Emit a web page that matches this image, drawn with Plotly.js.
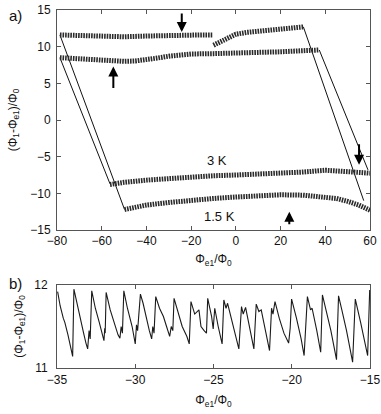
<!DOCTYPE html>
<html>
<head>
<meta charset="utf-8">
<script src="https://cdn.plot.ly/plotly-3.0.1.min.js"></script>
<style>html,body{margin:0;padding:0;background:#fff;}#chart{width:381px;height:414px;}</style>
</head>
<body>
<div id="chart"></div>
<script>
// ---- Panel a) : 1.5 K loop ----
const up15aX = [-78.7, -70, -60, -55, -50, -40, -30, -25, -20, -15, -10.2];
const up15aY = [11.6, 11.55, 11.4, 11.35, 11.35, 11.45, 11.55, 11.65, 11.65, 11.6, 11.6];
const up15bX = [-10, -8, -6, -4, -2, 0, 5, 10, 15, 20, 25, 30.2];
const up15bY = [10.2, 10.5, 10.9, 11.2, 11.5, 11.7, 11.95, 12.1, 12.25, 12.4, 12.55, 12.7];
const lo15X = [-49.8, -45, -40, -30, -20, -10, 0, 10, 20, 30, 40, 45, 50, 55, 60];
const lo15Y = [-12.2, -11.9, -11.6, -11.25, -10.9, -10.7, -10.5, -10.35, -10.2, -10.25, -10.45, -10.7, -11.1, -11.6, -12.3];
const left15X = [-78.7, -49.8];
const left15Y = [11.6, -12.2];
const right15X = [30.2, 57.2];
const right15Y = [12.7, -11.0];

// ---- Panel a) : 3 K loop ----
const up3X = [-78.7, -70, -60, -55, -50, -45, -40, -35, -30, -25, -20, -10, 0, 10, 20, 30, 37.3];
const up3Y = [8.5, 8.35, 8.15, 8.05, 8.0, 8.05, 8.2, 8.45, 8.7, 8.9, 9.0, 9.05, 9.1, 9.2, 9.3, 9.45, 9.55];
const lo3X = [-56.3, -50, -40, -30, -20, -10, 0, 10, 20, 30, 40, 50, 60];
const lo3Y = [-8.8, -8.5, -8.2, -7.95, -7.7, -7.6, -7.5, -7.4, -7.3, -7.1, -6.85, -7.0, -7.25];
const left3X = [-78.7, -56.3];
const left3Y = [8.5, -8.7];
const right3X = [37.3, 59.1];
const right3Y = [9.55, -6.8];

// arrows (tip positions) in panel a
const arrowX = [-24.2, -54.8, 55.1, 23.9];
const arrowY = [12.0, 7.3, -6.1, -12.5];
const arrowDy = [-20, 23, -22, 14];

// ---- Panel b) : zoom of the sawtooth ----
const bX = [-34.96, -34.8, -34.6, -34.5, -34.3, -34.0,
  -33.92, -33.7, -33.5, -33.3, -33.15, -33.04, -32.95, -32.88,
  -32.78, -32.55, -32.3, -32.1, -32.0, -31.95, -31.92,
  -31.86, -31.6, -31.3, -31.1, -30.98, -30.9, -30.82,
  -30.73, -30.5, -30.2, -30.0, -29.92, -29.85,
  -29.67, -29.5, -29.3, -29.1, -28.95, -28.88, -28.8,
  -28.69, -28.45, -28.2, -28.0, -27.8, -27.7, -27.6,
  -27.52, -27.3, -27.0, -26.7, -26.55,
  -26.44, -26.2, -25.93, -25.8, -25.6, -25.45,
  -25.37, -25.12, -25.02,
  -24.92, -24.7, -24.45,
  -24.34, -24.2, -24.1, -23.8, -23.5, -23.38,
  -23.21, -23.1, -22.95, -22.7, -22.42,
  -22.27, -22.1, -21.95, -21.7, -21.42,
  -21.29, -21.2, -21.07, -20.8, -20.5, -20.2, -20.1,
  -20.01, -19.7, -19.4, -19.21,
  -19.0, -18.8, -18.7, -18.4, -18.15,
  -18.04, -17.8, -17.5, -17.14,
  -17.01, -16.8, -16.5, -16.11,
  -15.94, -15.6, -15.3, -15.15,
  -15.02];
const bY = [11.92, 11.75, 11.6, 11.55, 11.4, 11.14,
  11.95, 11.75, 11.58, 11.42, 11.3, 11.23, 11.45, 11.35,
  11.93, 11.72, 11.55, 11.38, 11.33, 11.48, 11.42,
  11.91, 11.7, 11.52, 11.4, 11.36, 11.5, 11.42,
  11.93, 11.72, 11.5, 11.29, 11.52, 11.45,
  11.89, 11.78, 11.6, 11.45, 11.35, 11.5, 11.42,
  11.86, 11.72, 11.62, 11.5, 11.38, 11.5, 11.45,
  11.84, 11.7, 11.5, 11.38, 11.29,
  11.80, 11.65, 11.70, 11.5, 11.45, 11.42,
  11.84, 11.62, 11.47,
  11.72, 11.5, 11.29,
  11.82, 11.72, 11.78, 11.55, 11.35, 11.23,
  11.74, 11.65, 11.73, 11.5, 11.23,
  11.77, 11.68, 11.7, 11.45, 11.21,
  11.72, 11.65, 11.80, 11.6, 11.42, 11.3, 11.48,
  11.83, 11.6, 11.35, 11.15,
  11.86, 11.7, 11.72, 11.45, 11.19,
  11.88, 11.68, 11.45, 11.10,
  11.87, 11.7, 11.45, 11.07,
  11.83, 11.55, 11.28, 11.15,
  11.94];

const aTickVals = [-80, -60, -40, -20, 0, 20, 40, 60];
const aYTicks = [-15, -10, -5, 0, 5, 10, 15];
const bTickVals = [-35, -30, -25, -20, -15];
const bYTicks = [11, 12];

const FONT = 'Liberation Sans, Arial, sans-serif';
// thick striped stroke mimicking the dense sawtooth of the measured branches
const band = {color: '#2a2a2a', width: 5, dash: '1.6px,1px'};
const thin = {color: '#111', width: 1};

function tr(x, y, line, xa, ya) {
  return {x: x, y: y, type: 'scatter', mode: 'lines', line: line, xaxis: xa, yaxis: ya,
          hoverinfo: 'skip', showlegend: false};
}

const data = [
  tr(left15X, left15Y, thin, 'x', 'y'),
  tr(right15X, right15Y, thin, 'x', 'y'),
  tr(left3X, left3Y, thin, 'x', 'y'),
  tr(right3X, right3Y, thin, 'x', 'y'),
  tr(up15aX, up15aY, band, 'x', 'y'),
  tr(up15bX, up15bY, band, 'x', 'y'),
  tr(lo15X, lo15Y, band, 'x', 'y'),
  tr(up3X, up3Y, band, 'x', 'y'),
  tr(lo3X, lo3Y, band, 'x', 'y'),
  tr(bX, bY, {color: '#1a1a1a', width: 1.1}, 'x2', 'y2')
];

const axCommon = {
  showgrid: false, zeroline: false, showline: true, mirror: 'ticks',
  linecolor: '#555', linewidth: 1, ticks: 'inside', ticklen: 4, tickcolor: '#555',
  tickfont: {family: FONT, size: 12, color: '#111'}
};

const W = 381, H = 414, ML = 57, MR = 11, MT = 10, MB = 46;
const pw = W - ML - MR, ph = H - MT - MB;

const annotations = arrowX.map((x, i) => ({
  x: x, y: arrowY[i], xref: 'x', yref: 'y', ax: 0, ay: arrowDy[i],
  showarrow: true, arrowhead: 2, arrowsize: 1, arrowwidth: 2, arrowcolor: '#000', text: ''
}));
annotations.push(
  {x: -8.4, y: -5.5, xref: 'x', yref: 'y', text: '3 K', showarrow: false,
   font: {family: FONT, size: 13, color: '#111'}},
  {x: -7.5, y: -13.1, xref: 'x', yref: 'y', text: '1.5 K', showarrow: false,
   font: {family: FONT, size: 13, color: '#111'}},
  {x: (15 - ML) / pw, y: (H - MB - 15) / ph, xref: 'paper', yref: 'paper',
   xanchor: 'center', yanchor: 'middle',
   text: 'a)', showarrow: false, font: {family: FONT, size: 15, color: '#111'}},
  {x: (15 - ML) / pw, y: (H - MB - 283) / ph, xref: 'paper', yref: 'paper',
   xanchor: 'center', yanchor: 'middle',
   text: 'b)', showarrow: false, font: {family: FONT, size: 15, color: '#111'}}
);

const titleFont = {family: FONT, size: 12, color: '#111'};
const layout = {
  width: W, height: H,
  margin: {l: ML, r: MR, t: MT, b: MB},
  paper_bgcolor: '#fff', plot_bgcolor: '#fff',
  showlegend: false,
  xaxis: Object.assign({}, axCommon, {
    domain: [0, 1], range: [-80, 60], tickvals: aTickVals, anchor: 'y',
    title: {text: 'Φ<sub>e1</sub>/Φ<sub>0</sub>', font: titleFont, standoff: 7}
  }),
  yaxis: Object.assign({}, axCommon, {
    domain: [(H - MB - 230) / ph, 1], range: [-15, 15], tickvals: aYTicks, anchor: 'x',
    ticklabelstandoff: 3,
    title: {text: '(Φ<sub>1</sub>-Φ<sub>e1</sub>)/Φ<sub>0</sub>', font: titleFont, standoff: 10}
  }),
  xaxis2: Object.assign({}, axCommon, {
    domain: [0, 1], range: [-35, -15], tickvals: bTickVals, anchor: 'y2',
    ticklabelstandoff: 1,
    title: {text: 'Φ<sub>e1</sub>/Φ<sub>0</sub>', font: titleFont, standoff: 9}
  }),
  yaxis2: Object.assign({}, axCommon, {
    domain: [0, (H - MB - 285) / ph], range: [11, 12], tickvals: bYTicks, anchor: 'x2',
    ticklabelstandoff: 6,
    title: {text: '(Φ<sub>1</sub>-Φ<sub>e1</sub>)/Φ<sub>0</sub>', font: titleFont, standoff: 8}
  }),
  annotations: annotations
};

Plotly.newPlot('chart', data, layout, {staticPlot: true, displayModeBar: false});
</script>
</body>
</html>
